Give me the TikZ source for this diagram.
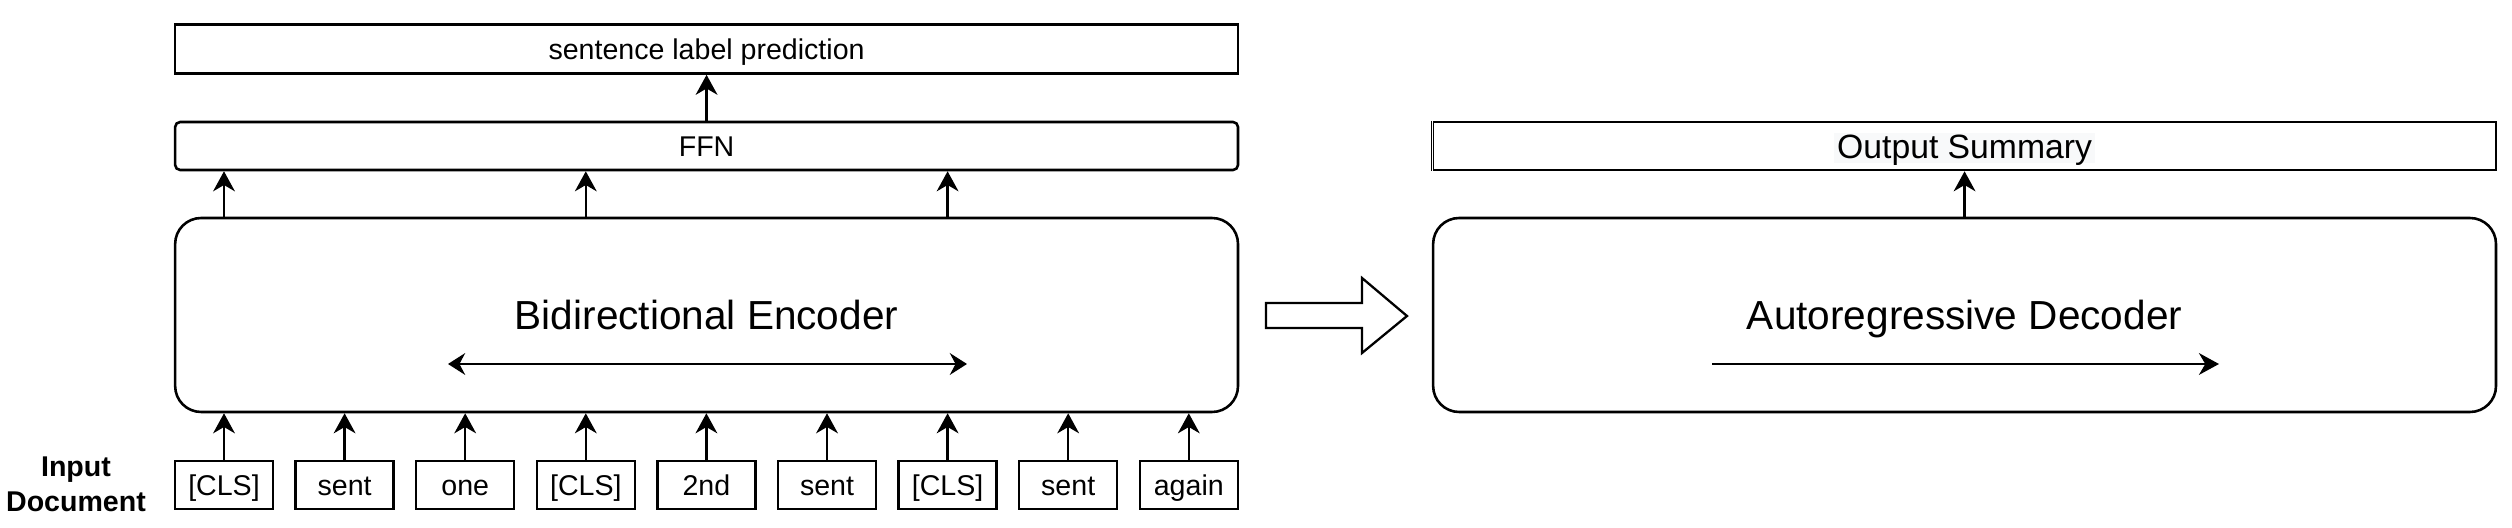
\documentclass[tikz,border=0pt]{standalone}
\usepackage{fontspec}
\setmainfont{Liberation Sans}
\usetikzlibrary{arrows.meta}
\definecolor{txtbg}{RGB}{248,249,250}
\tikzset{
  blk/.style={draw, line width=0.9pt, minimum width=372pt, inner sep=0pt, font=\fontsize{10}{12}\selectfont, text height=7.2pt, text depth=0pt},
  big/.style={blk, rounded corners=9.1pt, minimum height=67.9pt, font=\fontsize{14.2}{16}\selectfont, text height=10.2pt},
  tok/.style={draw, line width=0.9pt, minimum width=34.3pt, minimum height=16.8pt, inner sep=0pt, font=\fontsize{10}{12}\selectfont, text height=7.2pt, text depth=0pt},
  arr/.style={line width=0.9pt, -{Stealth[length=7pt,width=7.6pt,inset=2.2pt]}},
  arrr/.style={line width=0.9pt, {Stealth[length=6pt,width=7.6pt,inset=2pt]}-{Stealth[length=6pt,width=7.6pt,inset=2pt]}}
}
\begin{document}
\begin{tikzpicture}[x=1pt,y=1pt]
\useasboundingbox (0,0) rectangle (879.2,184.8);
% encoder side
\node[blk, minimum height=17.15pt] (slp) at (247.3,167.65){sentence label prediction};
\node[blk, rounded corners=1.75pt, minimum height=16.8pt] (ffn) at (247.3,133.7){FFN};
\node[big] (enc) at (247.3,74.55){Bidirectional Encoder};
\node[tok] (tok0) at (78.4,15.05){[CLS]};
\node[tok] (tok1) at (120.61,15.05){sent};
\node[tok] (tok2) at (162.82,15.05){one};
\node[tok] (tok3) at (205.03,15.05){[CLS]};
\node[tok] (tok4) at (247.24,15.05){2nd};
\node[tok] (tok5) at (289.45,15.05){sent};
\node[tok] (tok6) at (331.66,15.05){[CLS]};
\node[tok] (tok7) at (373.87,15.05){sent};
\node[tok] (tok8) at (416.08,15.05){again};
\node[align=center, font=\fontsize{10}{12}\selectfont\bfseries] (inp) at (26.6,15.3){Input\\Document};
\draw[arr] (tok0) -- (tok0 |- enc.south);
\draw[arr] (tok1) -- (tok1 |- enc.south);
\draw[arr] (tok2) -- (tok2 |- enc.south);
\draw[arr] (tok3) -- (tok3 |- enc.south);
\draw[arr] (tok4) -- (tok4 |- enc.south);
\draw[arr] (tok5) -- (tok5 |- enc.south);
\draw[arr] (tok6) -- (tok6 |- enc.south);
\draw[arr] (tok7) -- (tok7 |- enc.south);
\draw[arr] (tok8) -- (tok8 |- enc.south);
\draw[arr] (enc.north -| tok0) -- (ffn.south -| tok0);
\draw[arr] (enc.north -| tok3) -- (ffn.south -| tok3);
\draw[arr] (enc.north -| tok6) -- (ffn.south -| tok6);
\draw[arr] (ffn) -- (slp);
\coordinate (bl) at (156.8,57.4);
\coordinate (br) at (338.45,57.4);
\draw[arrr] (bl) -- (br);
% hollow arrow
\draw[line width=0.8pt] (443.1,78.75) -- (476.7,78.75) -- (476.7,87.5) -- (492.45,74.2) -- (476.7,61.25) -- (476.7,70) -- (443.1,70) -- cycle;
% decoder side
\node[fill=txtbg, inner xsep=1.2pt, inner ysep=0.65pt, font=\fontsize{11.8}{14}\selectfont, text height=8.45pt, text depth=0.75pt] (outtxt) at (687.6,133.0){Output Summary};
\node[blk, minimum height=16.8pt] (out) at (687.6,133.7){};
\draw[white, line width=1pt] (out.north west) -- (out.south west);
\draw[line width=0.4pt] (out.north west) -- (out.south west);
\node[big] (dec) at (687.6,74.55){Autoregressive Decoder};
\draw[arr] (dec) -- (out);
\coordinate (al) at (599.2,57.4);
\coordinate (ar) at (776.65,57.4);
\draw[arr] (al) -- (ar);
\end{tikzpicture}
\end{document}
